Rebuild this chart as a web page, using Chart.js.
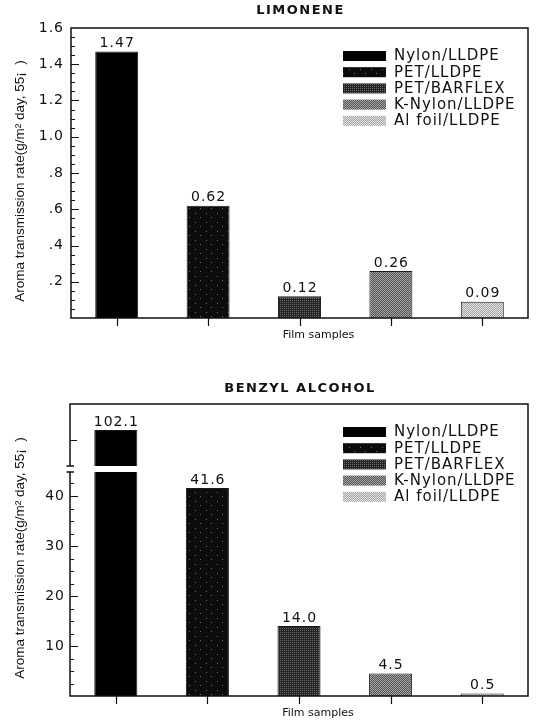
<!DOCTYPE html>
<html>
<head>
<meta charset="utf-8">
<script src="https://cdn.jsdelivr.net/npm/chart.js@4.4.1/dist/chart.umd.min.js"></script>
<style>
  html, body { margin: 0; padding: 0; background: #fff; }
  #wrap { position: relative; width: 537px; height: 721px; overflow: hidden; }
  canvas { position: absolute; left: 0; }
  #limonene { top: 0; }
  #benzyl { top: 360px; }
</style>
</head>
<body>
<div id="wrap">
  <canvas id="limonene" width="537" height="360"></canvas>
  <canvas id="benzyl" width="537" height="361"></canvas>
</div>
<script>
// Film samples and measured aroma transmission rates
const categories = ['Nylon/LLDPE', 'PET/LLDPE', 'PET/BARFLEX', 'K-Nylon/LLDPE', 'Al foil/LLDPE'];
const limoneneRates = [1.47, 0.62, 0.12, 0.26, 0.09];
const benzylRates = [102.1, 41.6, 14.0, 4.5, 0.5];

// Axis tick values and their printed labels
const limoneneTickValues = [0.2, 0.4, 0.6, 0.8, 1.0, 1.2, 1.4, 1.6];
const limoneneTickLabels = ['.2', '.4', '.6', '.8', '1.0', '1.2', '1.4', '1.6'];
const benzylTickValues = [10, 20, 30, 40];
const benzylTickLabels = ['10', '20', '30', '40'];
const benzylUpperTickValues = [100];

const yTitle = 'Aroma transmission rate(g/m\u00B2 day, 55\u00A1  )';
const xTitle = 'Film samples';

// Halftone-like fills, one per film sample
function makeFill(ctx, w, h, base, light, isLight) {
  const c = document.createElement('canvas');
  c.width = w; c.height = h;
  const g = c.getContext('2d');
  g.fillStyle = base; g.fillRect(0, 0, w, h);
  g.fillStyle = light;
  for (let y = 0; y < h; y++) {
    for (let x = 0; x < w; x++) {
      if (isLight(x, y)) g.fillRect(x, y, 1, 1);
    }
  }
  return ctx.createPattern(c, 'repeat');
}
function sampleFills(ctx) {
  return [
    '#000000',
    makeFill(ctx, 11, 9, '#0c0c0c', '#6e6e6e', (x, y) => (x === 2 && y === 1) || (x === 8 && y === 6)),
    makeFill(ctx, 4, 4, '#242424', '#6a6a6a', (x, y) => (x + y) % 2 === 0 && x % 2 === 0),
    makeFill(ctx, 2, 2, '#505050', '#a8a8a8', (x, y) => (x + y) % 2 === 0),
    makeFill(ctx, 2, 2, '#a0a0a0', '#e6e6e6', (x, y) => (x + y) % 2 === 0)
  ];
}

const FONT = '"DejaVu Sans", sans-serif';

function drawTitle(ctx, area, text, y) {
  ctx.save();
  ctx.letterSpacing = '1.5px';
  ctx.font = 'bold 13px ' + FONT;
  ctx.fillStyle = '#111';
  ctx.textAlign = 'center';
  ctx.textBaseline = 'middle';
  ctx.fillText(text, (area.left + area.right) / 2 + 1, y);
  ctx.restore();
}

function drawAxisTitles(ctx, area, xTitleY) {
  ctx.save();
  ctx.letterSpacing = '0px';
  ctx.fillStyle = '#111';
  ctx.font = '11px ' + FONT;
  ctx.textAlign = 'center';
  ctx.textBaseline = 'middle';
  ctx.fillText(xTitle, (area.left + area.right) / 2 + 19, xTitleY);
  ctx.translate(20, (area.top + area.bottom) / 2 + 8);
  ctx.rotate(-Math.PI / 2);
  ctx.font = '13.5px "Liberation Sans", Arial, sans-serif';
  ctx.fillText(yTitle, 0, 0);
  ctx.restore();
}

function drawLegend(ctx, area, fills) {
  ctx.save();
  ctx.letterSpacing = '1px';
  ctx.font = '15px ' + FONT;
  ctx.textBaseline = 'middle';
  ctx.textAlign = 'left';
  categories.forEach((name, i) => {
    const cy = area.top + 28 + i * 16.2;
    ctx.fillStyle = fills[i];
    ctx.fillRect(area.right - 185, cy - 5, 43, 10);
    ctx.fillStyle = '#111';
    ctx.fillText(name, area.right - 134, cy + 0.5);
  });
  ctx.restore();
}

function drawValueLabel(ctx, bar, text) {
  ctx.save();
  ctx.letterSpacing = '1px';
  ctx.font = '14px ' + FONT;
  ctx.fillStyle = '#111';
  ctx.textAlign = 'center';
  ctx.textBaseline = 'bottom';
  ctx.fillText(text, bar.x + 0.5, bar.y - 1);
  ctx.restore();
}

function drawXTicks(ctx, chart) {
  const area = chart.chartArea;
  const xs = chart.scales.x;
  ctx.beginPath();
  categories.forEach((c, i) => {
    const px = Math.round(xs.getPixelForValue(i)) + 0.5;
    ctx.moveTo(px, area.bottom);
    ctx.lineTo(px, area.bottom + 8);
  });
  ctx.stroke();
}

function drawYTick(ctx, left, py, len) {
  const y = Math.round(py) + 0.5;
  ctx.moveTo(left, y);
  ctx.lineTo(left + len, y);
}

function commonScales(fit) {
  return {
    x: {
      type: 'category',
      grid: { display: false, drawTicks: false },
      border: { display: false },
      ticks: { display: false },
      afterFit: s => { s.height = fit.xHeight; }
    }
  };
}

/* ---------- LIMONENE ---------- */
(function () {
  const canvas = document.getElementById('limonene');
  const ctx = canvas.getContext('2d');
  const fills = sampleFills(ctx);

  const decor = {
    id: 'limoneneDecor',
    beforeDraw(chart) { chart.ctx.letterSpacing = '1px'; },
    afterDraw(chart) {
      const c = chart.ctx, area = chart.chartArea, ys = chart.scales.y;
      c.save();
      c.strokeStyle = '#111';
      c.lineWidth = 1.5;
      c.strokeRect(area.left, area.top, area.right - area.left, area.bottom - area.top);
      c.lineWidth = 1.2;
      c.beginPath();
      for (let k = 1; k < 32; k++) {
        const v = k * 0.05;
        drawYTick(c, area.left, ys.getPixelForValue(v), k % 4 === 0 ? 8 : 4);
      }
      c.stroke();
      drawXTicks(c, chart);
      c.restore();

      const meta = chart.getDatasetMeta(0);
      meta.data.forEach((bar, i) => drawValueLabel(c, bar, limoneneRates[i].toFixed(2)));
      drawLegend(c, area, fills);
      drawTitle(c, area, 'LIMONENE', 11);
      drawAxisTitles(c, area, area.bottom + 17.5);
    }
  };

  const scales = commonScales({ xHeight: 42 });
  scales.y = {
    min: 0, max: 1.6,
    grid: { display: false, drawTicks: false },
    border: { display: false },
    afterBuildTicks: s => { s.ticks = limoneneTickValues.map(v => ({ value: v })); },
    afterFit: s => { s.width = 71; },
    ticks: {
      autoSkip: false,
      padding: 7,
      color: '#111',
      font: { family: '"DejaVu Sans", sans-serif', size: 14 },
      callback: (v, i) => limoneneTickLabels[i]
    }
  };

  new Chart(ctx, {
    type: 'bar',
    data: {
      labels: categories,
      datasets: [{
        data: limoneneRates,
        backgroundColor: fills,
        borderColor: '#1a1a1a',
        borderWidth: 1,
        barPercentage: 0.47,
        categoryPercentage: 1
      }]
    },
    options: {
      responsive: false,
      animation: false,
      devicePixelRatio: 1,
      layout: { padding: { top: 28, right: 9, left: 0, bottom: 0 } },
      plugins: { legend: { display: false }, title: { display: false }, tooltip: { enabled: false } },
      scales
    },
    plugins: [decor]
  });
})();

/* ---------- BENZYL ALCOHOL (broken axis) ---------- */
(function () {
  const canvas = document.getElementById('benzyl');
  const ctx = canvas.getContext('2d');
  const fills = sampleFills(ctx);
  const lowerMax = 45.4;
  const GAP = 3;

  const decor = {
    id: 'benzylDecor',
    beforeDraw(chart) { chart.ctx.letterSpacing = '1px'; },
    beforeDatasetDraw(chart, args) {
      const c = chart.ctx, area = chart.chartArea;
      const split = chart.scales.y.top;
      c.save();
      c.beginPath();
      if (args.meta.yAxisID === 'y') {
        c.rect(area.left - 2, split + GAP, area.right - area.left + 4, area.bottom - split - GAP + 2);
      } else {
        c.rect(area.left - 2, area.top - 2, area.right - area.left + 4, split - GAP - area.top + 2);
      }
      c.clip();
    },
    afterDatasetDraw(chart) { chart.ctx.restore(); },
    afterDraw(chart) {
      const c = chart.ctx, area = chart.chartArea;
      const ys = chart.scales.y, ys2 = chart.scales.y2;
      const split = ys.top;
      c.save();
      c.strokeStyle = '#111';
      c.lineWidth = 1.5;
      // frame with a break in the left axis
      c.beginPath();
      c.moveTo(area.left, split - GAP);
      c.lineTo(area.left, area.top);
      c.lineTo(area.right, area.top);
      c.lineTo(area.right, area.bottom);
      c.lineTo(area.left, area.bottom);
      c.lineTo(area.left, split + GAP);
      c.moveTo(area.left - 3.5, split - GAP);
      c.lineTo(area.left + 4, split - GAP);
      c.moveTo(area.left - 3.5, split + GAP);
      c.lineTo(area.left + 4, split + GAP);
      c.stroke();

      c.lineWidth = 1.2;
      c.beginPath();
      for (let k = 1; k <= 18; k++) {
        const v = k * 2.5;
        const py = ys.getPixelForValue(v);
        if (py < split + GAP + 2) continue;
        drawYTick(c, area.left, py, k % 4 === 0 ? 8 : 4);
      }
      benzylUpperTickValues.forEach(v => drawYTick(c, area.left, ys2.getPixelForValue(v), 7));
      c.stroke();
      drawXTicks(c, chart);
      c.restore();

      const lower = chart.getDatasetMeta(0), upper = chart.getDatasetMeta(1);
      benzylRates.forEach((v, i) => {
        const bar = v > lowerMax ? upper.data[i] : lower.data[i];
        drawValueLabel(c, bar, v.toFixed(1));
      });
      drawLegend(c, area, fills);
      drawTitle(c, area, 'BENZYL ALCOHOL', 29);
      drawAxisTitles(c, area, area.bottom + 17);
    }
  };

  const tickFont = { family: '"DejaVu Sans", sans-serif', size: 14 };
  const scales = commonScales({ xHeight: 25 });
  scales.y = {
    stack: 'rate', stackWeight: 227,
    min: 0, max: lowerMax,
    grid: { display: false, drawTicks: false },
    border: { display: false },
    afterBuildTicks: s => { s.ticks = benzylTickValues.map(v => ({ value: v })); },
    afterFit: s => { s.width = 70; },
    ticks: {
      autoSkip: false, padding: 5, color: '#111', font: tickFont,
      callback: (v, i) => benzylTickLabels[i]
    }
  };
  scales.y2 = {
    stack: 'rate', stackWeight: 65,
    min: 94.3, max: 107.3,
    grid: { display: false, drawTicks: false },
    border: { display: false },
    afterBuildTicks: s => { s.ticks = benzylUpperTickValues.map(v => ({ value: v })); },
    afterFit: s => { s.width = 70; },
    ticks: { display: false }
  };

  const barStyle = {
    backgroundColor: fills,
    borderColor: '#1a1a1a',
    borderWidth: 1,
    barPercentage: 0.47,
    categoryPercentage: 1,
    grouped: false
  };

  new Chart(ctx, {
    type: 'bar',
    data: {
      labels: categories,
      datasets: [
        Object.assign({ data: benzylRates, yAxisID: 'y' }, barStyle),
        Object.assign({ data: benzylRates.map(v => (v > lowerMax ? v : null)), yAxisID: 'y2' }, barStyle)
      ]
    },
    options: {
      responsive: false,
      animation: false,
      devicePixelRatio: 1,
      layout: { padding: { top: 44, right: 9, left: 0, bottom: 0 } },
      plugins: { legend: { display: false }, title: { display: false }, tooltip: { enabled: false } },
      scales
    },
    plugins: [decor]
  });
})();
</script>
</body>
</html>
